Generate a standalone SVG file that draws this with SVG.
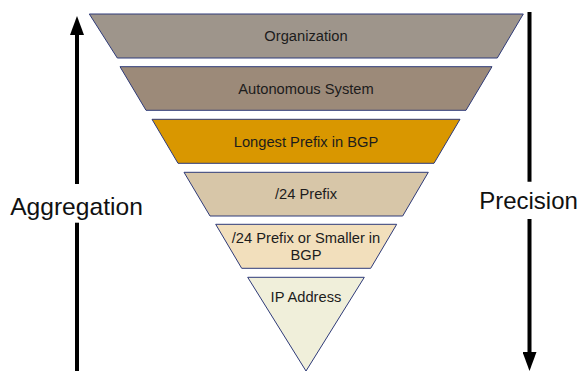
<svg xmlns="http://www.w3.org/2000/svg" width="581" height="371" viewBox="0 0 581 371">
<defs>
<style>
.band{stroke:#2e3a78;stroke-width:1;stroke-linejoin:miter}
.lbl{font-family:"Liberation Sans",Arial,sans-serif;font-size:14.7px;fill:#1c1c1c;text-anchor:middle}
.side{font-family:"Liberation Sans",Arial,sans-serif;font-size:24px;fill:#111;text-anchor:middle}
.conn{stroke:#000;stroke-width:4;fill:none}
</style>
<marker id="ah" markerUnits="userSpaceOnUse" markerWidth="19" markerHeight="14" viewBox="0 0 19 14" refX="0" refY="7" orient="auto">
<path d="M0,0 L19,7 L0,14 z" fill="#000"/>
</marker>
</defs>
<rect width="581" height="371" fill="#fff"/>
<g id="connectors">
<line class="conn" x1="77" y1="371" x2="77" y2="222.7"/>
<line class="conn" x1="77" y1="184" x2="77" y2="35" marker-end="url(#ah)"/>
<line class="conn" x1="529.5" y1="12" x2="529.5" y2="181.7"/>
<line class="conn" x1="529.5" y1="219" x2="529.5" y2="352" marker-end="url(#ah)"/>
</g>
<g id="organization">
<polygon class="band" points="89.3,14 523.3,14 497.3,58 117.3,58" fill="#9e958b"/>
<text class="lbl" x="306" y="41">Organization</text>
</g>
<g id="autonomous-system">
<polygon class="band" points="120,66.7 492,66.7 466,110.3 146,110.3" fill="#9c8a79"/>
<text class="lbl" x="306" y="94">Autonomous System</text>
</g>
<g id="longest-prefix">
<polygon class="band" points="152,119.3 460,119.3 434,163.3 178,163.3" fill="#d99700"/>
<text class="lbl" x="306" y="146.7">Longest Prefix in BGP</text>
</g>
<g id="prefix-24">
<polygon class="band" points="184,172.3 428.3,172.3 402.7,216 210,216" fill="#d7c6a8"/>
<text class="lbl" x="306" y="198.5">/24 Prefix</text>
</g>
<g id="prefix-24-smaller">
<polygon class="band" points="215.7,224.3 396.7,224.3 370.7,268.3 241.7,268.3" fill="#f2dfbc"/>
<text class="lbl" x="306" y="242.7">/24 Prefix or Smaller in</text>
<text class="lbl" x="306" y="260">BGP</text>
</g>
<g id="ip-address">
<polygon class="band" points="247.7,277.3 364.3,277.3 306,371" fill="#f0efda"/>
<text class="lbl" x="306" y="301.7">IP Address</text>
</g>
<g id="labels">
<text class="side" x="76.5" y="214.5" style="font-size:24.6px">Aggregation</text>
<text class="side" x="528.5" y="209.3">Precision</text>
</g>
</svg>
